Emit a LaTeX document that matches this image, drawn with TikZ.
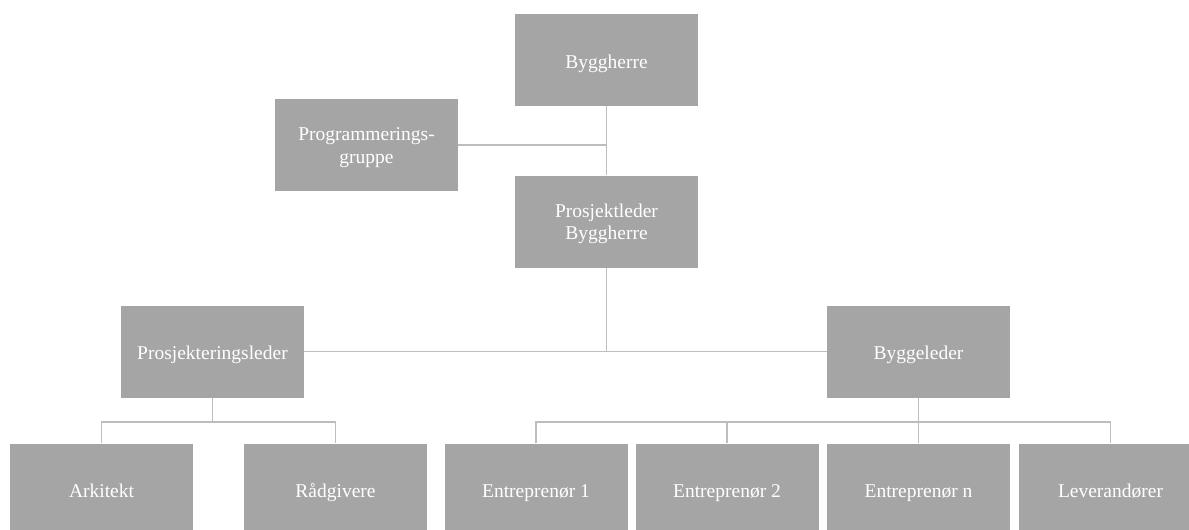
\documentclass[tikz,border=0pt]{standalone}
\usepackage{fontspec}
\setmainfont{Liberation Serif}
\definecolor{boxgray}{HTML}{A5A5A5}
\definecolor{linegray}{HTML}{BDBDBD}
\begin{document}
\begin{tikzpicture}[x=1pt,y=-1pt,
  orgbox/.style={fill=boxgray, draw=none, minimum width=183pt, minimum height=92pt,
    inner sep=0pt, text=white, align=center,
    font=\fontsize{19.5}{22.6}\selectfont, text height=20pt, text depth=4pt},
  twoline/.style={text height=40.6pt, text depth=4pt},
  link/.style={draw=linegray, line width=1.6pt}]
  % canvas
  \fill[white] (0,0) rectangle (1189,530);
  \useasboundingbox (0,0) rectangle (1189,530);
  \clip (0,0) rectangle (1189,530);

  % boxes
  \node[orgbox] (bh)  at (606.5,60)    {Byggherre};
  \node[orgbox,twoline] (pg)  at (366.5,145)   {Programmerings-\\gruppe};
  \node[orgbox,twoline] (plb) at (606.5,221.5) {Prosjektleder\\Byggherre};
  \node[orgbox] (psl) at (212.5,351.5) {Prosjekteringsleder};
  \node[orgbox] (bl)  at (918.5,351.5) {Byggeleder};
  \node[orgbox] (ark) at (101.5,489.5) {Arkitekt};
  \node[orgbox] (rad) at (335.5,489.5) {Rådgivere};
  \node[orgbox] (e1)  at (536,489.5)   {Entreprenør 1};
  \node[orgbox] (e2)  at (727,489.5)   {Entreprenør 2};
  \node[orgbox] (en)  at (918.5,489.5) {Entreprenør n};
  \node[orgbox] (lev) at (1110.5,489.5){Leverandører};

  % bus junctions
  \coordinate (pbus) at (212.5,422);
  \coordinate (bbus) at (918.5,422);

  % connectors
  \draw[link] (bh.south) -- (plb.north);
  \draw[link] (pg.east) -- (pg.east -| bh.south);
  \draw[link] (plb.south) -- (plb.south |- psl.east);
  \draw[link] (psl.east) -- (bl.west);
  \draw[link] (psl.south) -- (pbus);
  \draw[link] (ark.north) |- (pbus) -| (rad.north);
  \draw[link] (bl.south) -- (bbus);
  \draw[link] (e1.north) |- (bbus) -| (lev.north);
  \draw[link] (e2.north) -- (e2.north |- bbus);
  \draw[link] (en.north) -- (bbus);
\end{tikzpicture}
\end{document}
